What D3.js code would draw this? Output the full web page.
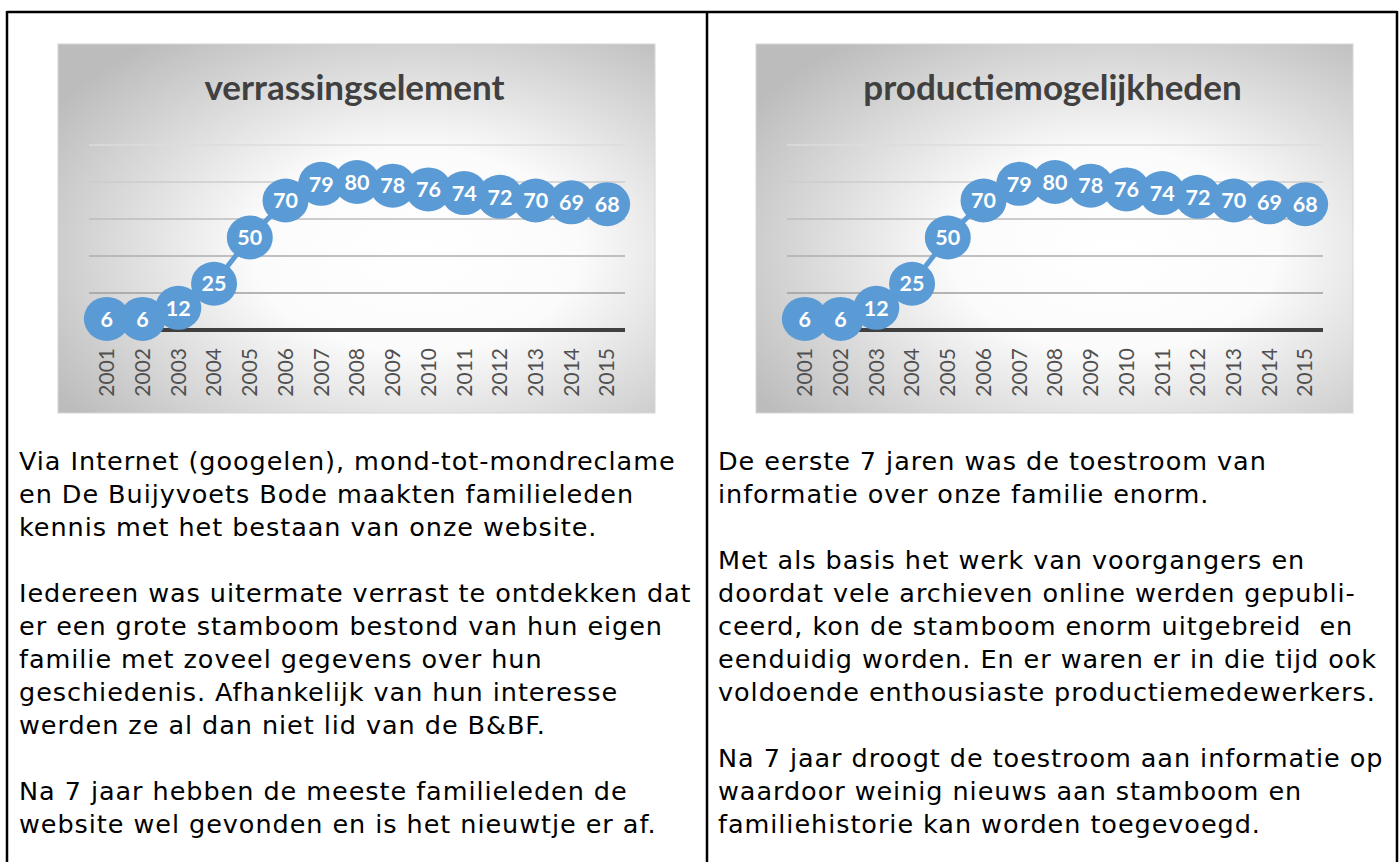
<!DOCTYPE html>
<html>
<head>
<meta charset="utf-8">
<script src="https://cdn.jsdelivr.net/npm/d3@7"></script>
<style>
  body { margin: 0; background: #fff; }
  svg { display: block; }
</style>
</head>
<body>
<div id="page"></div>
<script>
const years = ["2001", "2002", "2003", "2004", "2005", "2006", "2007", "2008",
  "2009", "2010", "2011", "2012", "2013", "2014", "2015"];
const surpriseValues = [6, 6, 12, 25, 50, 70, 79, 80, 78, 76, 74, 72, 70, 69, 68];
const productionValues = [6, 6, 12, 25, 50, 70, 79, 80, 78, 76, 74, 72, 70, 69, 68];
const gridTicks = [20, 40, 60, 80, 100];
const titles = ["verrassingselement", "productiemogelijkheden"];

const leftText = [
  "Via Internet (googelen), mond-tot-mondreclame",
  "en De Buijyvoets Bode maakten familieleden",
  "kennis met het bestaan van onze website.",
  "",
  "Iedereen was uitermate verrast te ontdekken dat",
  "er een grote stamboom bestond van hun eigen",
  "familie met zoveel gegevens over hun",
  "geschiedenis. Afhankelijk van hun interesse",
  "werden ze al dan niet lid van de B&BF.",
  "",
  "Na 7 jaar hebben de meeste familieleden de",
  "website wel gevonden en is het nieuwtje er af."
];
const rightText = [
  "De eerste 7 jaren was de toestroom van",
  "informatie over onze familie enorm.",
  "",
  "Met als basis het werk van voorgangers en",
  "doordat vele archieven online werden gepubli-",
  "ceerd, kon de stamboom enorm uitgebreid  en",
  "eenduidig worden. En er waren er in die tijd ook",
  "voldoende enthousiaste productiemedewerkers.",
  "",
  "Na 7 jaar droogt de toestroom aan informatie op",
  "waardoor weinig nieuws aan stamboom en",
  "familiehistorie kan worden toegevoegd."
];

const W = 1400, H = 862;
const blue = "#5b9bd5";

const svg = d3.select("#page").append("svg")
  .attr("width", W)
  .attr("height", H);

const defs = svg.append("defs");
const grad = defs.append("radialGradient")
  .attr("id", "bg")
  .attr("cx", "60%").attr("cy", "56%").attr("r", "72%");
grad.append("stop").attr("offset", "0%").attr("stop-color", "#ffffff");
grad.append("stop").attr("offset", "38%").attr("stop-color", "#fbfbfb");
grad.append("stop").attr("offset", "100%").attr("stop-color", "#bcbcbc");

// page frame
const frame = svg.append("g").attr("stroke", "#000").attr("stroke-width", 2.5);
frame.append("line").attr("x1", 7).attr("x2", 1397).attr("y1", 12).attr("y2", 12);
frame.append("line").attr("x1", 7).attr("x2", 7).attr("y1", 11).attr("y2", H);
frame.append("line").attr("x1", 707).attr("x2", 707).attr("y1", 11).attr("y2", H);
frame.append("line").attr("x1", 1397).attr("x2", 1397).attr("y1", 11).attr("y2", H);

function drawChart(x0, y0, title, values) {
  const boxW = 597, boxH = 369;
  const g = svg.append("g").attr("transform", `translate(${x0},${y0})`);

  g.append("rect")
    .attr("width", boxW).attr("height", boxH)
    .attr("fill", "url(#bg)")
    .attr("stroke", "#d6d6d6").attr("stroke-width", 1);

  g.append("text")
    .attr("x", boxW / 2 - 2).attr("y", 56)
    .attr("text-anchor", "middle")
    .attr("font-family", "Lato, sans-serif")
    .attr("font-weight", "bold")
    .attr("font-size", 35)
    .attr("fill", "#404040")
    .text(title);

  const x = d3.scaleBand().domain(years).range([31, 567]);
  const y = d3.scaleLinear().domain([0, 100]).range([286, 101]);

  const shade = d3.scaleLinear().domain([20, 100]).range(["#9e9e9e", "#dcdcdc"]);
  g.selectAll("line.grid")
    .data(gridTicks)
    .enter()
    .append("line")
    .attr("class", "grid")
    .attr("x1", 31).attr("x2", 567)
    .attr("y1", d => y(d)).attr("y2", d => y(d))
    .attr("stroke", d => shade(d))
    .attr("stroke-width", 1.5);

  g.append("line")
    .attr("x1", 31).attr("x2", 567)
    .attr("y1", y(0)).attr("y2", y(0))
    .attr("stroke", "#404040")
    .attr("stroke-width", 4);

  // year labels
  g.selectAll("text.year")
    .data(years)
    .enter()
    .append("text")
    .attr("class", "year")
    .attr("transform", d => `translate(${x(d) + x.bandwidth() / 2},${y(0) + 18}) rotate(-90)`)
    .attr("dy", "0.35em")
    .attr("text-anchor", "end")
    .attr("font-family", "Lato, sans-serif")
    .attr("font-size", 21)
    .attr("fill", "#505050")
    .text(d => d);

  const cx = (d, i) => x(years[i]) + x.bandwidth() / 2;

  g.append("path")
    .datum(values)
    .attr("fill", "none")
    .attr("stroke", blue)
    .attr("stroke-width", 5)
    .attr("d", d3.line().x(cx).y(d => y(d)));

  g.selectAll("ellipse.mark")
    .data(values)
    .enter()
    .append("ellipse")
    .attr("class", "mark")
    .attr("cx", cx)
    .attr("cy", d => y(d))
    .attr("rx", 23)
    .attr("ry", 22)
    .attr("fill", blue);

  g.selectAll("text.val")
    .data(values)
    .enter()
    .append("text")
    .attr("class", "val")
    .attr("x", cx)
    .attr("y", d => y(d))
    .attr("dy", "0.36em")
    .attr("text-anchor", "middle")
    .attr("font-family", "Lato, sans-serif")
    .attr("font-weight", "bold")
    .attr("font-size", 21.5)
    .attr("fill", "#fff")
    .text(d => d);
}

drawChart(58, 44, titles[0], surpriseValues);
drawChart(756, 44, titles[1], productionValues);

function drawText(x0, lines) {
  svg.append("g")
    .selectAll("text")
    .data(lines)
    .enter()
    .append("text")
    .attr("x", x0)
    .attr("y", (d, i) => 470 + i * 33)
    .attr("font-family", "'DejaVu Sans', Verdana, sans-serif")
    .attr("font-size", 25.5)
    .attr("letter-spacing", 0.95)
    .attr("fill", "#000")
    .style("white-space", "pre")
    .text(d => d);
}

drawText(19, leftText);
drawText(718, rightText);
</script>
</body>
</html>
